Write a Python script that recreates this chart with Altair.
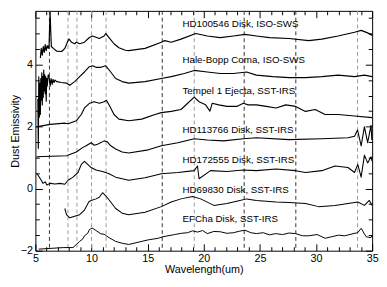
import altair as alt
import pandas as pd

# ---------------- data ----------------
series_names = ["HD100546", "Hale-Bopp", "Tempel 1", "HD113766", "HD172555", "HD69830", "EFCha"]

hd100546_x = [5.44, 5.52, 5.61, 5.7, 5.79, 5.87, 5.96, 6.05, 6.14, 6.22, 6.27, 6.31, 6.36, 6.42, 6.6, 6.9, 7.34, 7.62, 7.91, 8.0,
              8.21, 8.5, 8.65, 8.94, 9.37, 9.81, 10.1, 10.69, 11.12, 11.27, 11.56, 12.0, 12.44, 13.02, 13.31, 14.77, 16.22, 16.52, 17.1, 17.97,
              19.29, 20.31, 21.47, 22.65, 23.66, 24.69, 25.85, 27.6, 29.35, 30.52, 31.97, 33.43, 34.02, 34.6, 35.0]
hd100546_y = [4.21, 4.52, 4.3, 4.58, 4.39, 4.64, 4.45, 4.61, 4.52, 4.64, 5.27, 5.68, 5.12, 4.58, 4.52, 4.43, 4.42, 4.52, 4.77, 4.82,
              4.72, 4.67, 4.72, 4.67, 4.72, 4.87, 4.92, 4.84, 4.92, 5.0, 4.87, 4.67, 4.54, 4.46, 4.45, 4.52, 4.72, 4.77, 4.72, 4.82,
              5.0, 4.92, 4.87, 4.92, 4.97, 4.92, 4.87, 4.84, 4.77, 4.82, 4.92, 5.04, 5.1, 5.02, 4.94]

halebopp_x = [5.22, 5.26, 5.3, 5.35, 5.4, 5.44, 5.48, 5.52, 5.57, 5.61, 5.66, 5.7, 5.74, 5.79, 5.83, 5.87, 5.92, 5.96, 6.01, 6.05,
              6.14, 6.22, 6.31, 6.4, 6.49, 6.57, 6.66, 6.75, 6.9, 7.3, 7.77, 8.06, 8.5, 8.94, 9.37, 9.81, 10.1, 10.4, 10.84, 11.27,
              11.71, 12.15, 12.73, 13.31, 14.77, 16.22, 17.1, 18.27, 19.15, 20.31, 21.47, 22.65, 23.81, 24.69, 26.15, 27.6, 29.06, 30.52, 31.97, 33.43,
              34.31, 35.0]
halebopp_y = [2.9, 1.3, 3.6, 2.3, 3.4, 2.39, 3.55, 2.85, 3.73, 2.7, 3.61, 2.94, 3.82, 3.15, 3.67, 3.06, 3.61, 2.82, 3.55, 3.3,
              3.67, 3.61, 3.3, 3.55, 3.36, 3.52, 3.42, 3.5, 3.45, 3.42, 3.4, 3.33, 3.45, 3.61, 3.76, 3.93, 3.96, 3.91, 3.91, 3.96,
              3.76, 3.55, 3.45, 3.4, 3.45, 3.55, 3.61, 3.71, 3.81, 3.76, 3.71, 3.71, 3.76, 3.66, 3.61, 3.58, 3.58, 3.61, 3.66, 3.61,
              3.66, 3.61]

tempel_x = [5.09, 6.31, 7.62, 7.91, 8.65, 9.09, 9.37, 9.81, 10.25, 10.69, 11.12, 11.33, 11.71, 12.0, 12.44, 13.31, 14.47, 15.65, 16.22, 17.1,
            17.97, 18.71, 19.15, 19.58, 20.16, 20.55, 20.75, 21.33, 22.06, 22.94, 23.52, 23.96, 24.69, 25.56, 26.44, 27.31, 28.18, 29.06, 29.93, 30.81,
            31.97, 33.43, 35.0]
tempel_y = [1.99, 2.07, 2.11, 2.09, 2.19, 2.39, 2.6, 2.75, 2.8, 2.75, 2.8, 2.85, 2.6, 2.39, 2.24, 2.19, 2.24, 2.39, 2.45, 2.49,
            2.55, 2.8, 2.95, 2.8, 2.7, 2.5, 2.75, 2.7, 2.65, 2.65, 2.75, 2.7, 2.7, 2.65, 2.6, 2.7, 2.65, 2.49, 2.55, 2.39,
            2.39, 2.34, 2.29]

hd113766_x = [5.09, 7.77, 8.65, 9.23, 9.52, 9.96, 10.25, 10.54, 11.12, 11.41, 11.71, 12.15, 12.73, 13.31, 15.06, 16.22, 17.69, 19.15, 20.31, 21.77,
              23.52, 24.69, 27.6, 30.52, 32.85, 33.43, 33.7, 34.02, 34.31, 34.6, 34.9, 34.97, 35.0]
hd113766_y = [1.03, 1.06, 1.18, 1.33, 1.38, 1.48, 1.4, 1.43, 1.54, 1.51, 1.38, 1.28, 1.18, 1.15, 1.25, 1.38, 1.48, 1.61, 1.57, 1.54,
              1.61, 1.64, 1.58, 1.61, 1.64, 1.69, 1.89, 1.38, 1.99, 1.48, 2.04, 1.58, 1.79]

hd172555_x = [5.15, 5.44, 5.67, 5.87, 6.02, 6.31, 6.75, 7.19, 7.62, 7.91, 8.35, 8.79, 9.09, 9.37, 9.66, 9.96, 10.4, 10.98, 11.56, 12.15,
              12.73, 13.31, 14.77, 16.22, 17.69, 19.15, 19.44, 19.58, 20.6, 22.06, 23.52, 24.69, 26.44, 28.18, 29.06, 30.52, 31.69, 32.85, 33.43, 33.72,
              34.02, 34.31, 34.6, 34.9, 35.0]
hd172555_y = [0.48, 0.32, 0.17, 0.22, 0.12, 0.17, 0.15, 0.17, 0.14, 0.27, 0.37, 0.52, 0.78, 0.88, 0.78, 0.68, 0.6, 0.55, 0.48, 0.37,
              0.32, 0.27, 0.35, 0.48, 0.52, 0.58, 0.73, 0.32, 0.58, 0.55, 0.6, 0.58, 0.63, 0.58, 0.52, 0.58, 0.73, 0.68, 0.52, 0.78,
              0.37, 1.08, 0.83, 1.03, 0.88]

hd69830_x = [7.62, 7.77, 8.06, 8.5, 8.94, 9.37, 9.75, 9.96, 10.4, 10.69, 10.98, 11.27, 11.71, 12.15, 12.73, 13.31, 14.77, 16.22, 17.1, 17.97,
             18.99, 19.72, 20.9, 22.06, 23.22, 23.81, 24.69, 26.44, 27.6, 29.06, 30.23, 31.69, 32.85, 33.72, 34.31, 34.75, 35.0]
hd69830_y = [-0.64, -0.84, -0.94, -0.89, -0.84, -0.69, -0.43, -0.38, -0.33, -0.28, -0.13, -0.23, -0.43, -0.64, -0.79, -0.84, -0.76, -0.58, -0.43, -0.33,
             -0.25, -0.33, -0.54, -0.48, -0.38, -0.33, -0.38, -0.43, -0.45, -0.48, -0.58, -0.54, -0.48, -0.43, -0.54, -0.38, -0.54]

efcha_x = [5.29, 7.48, 8.35, 8.65, 8.94, 9.23, 9.37, 9.66, 9.81, 10.05, 10.4, 10.84, 11.12, 11.56, 12.15, 12.73, 13.31, 15.06, 15.94, 16.37,
           17.4, 18.0, 18.56, 19.0, 19.44, 19.9, 20.31, 20.9, 21.47, 22.06, 22.65, 23.2, 23.66, 24.2, 24.69, 25.3, 25.85, 26.4, 27.02, 27.6,
           28.18, 28.8, 29.35, 30.1, 30.81, 31.4, 32.0, 32.56, 33.2, 33.72, 34.02, 34.46, 34.9, 35.0]
efcha_y = [-1.95, -1.9, -1.9, -1.8, -1.7, -1.62, -1.52, -1.44, -1.32, -1.27, -1.35, -1.46, -1.47, -1.58, -1.7, -1.76, -1.8, -1.65, -1.6, -1.55,
           -1.48, -1.44, -1.42, -1.36, -1.4, -1.35, -1.45, -1.38, -1.39, -1.44, -1.42, -1.37, -1.34, -1.42, -1.45, -1.42, -1.49, -1.45, -1.48, -1.43,
           -1.45, -1.52, -1.52, -1.48, -1.6, -1.55, -1.5, -1.52, -1.46, -1.42, -1.28, -1.55, -1.58, -1.49]

label_texts = ["HD100546 Disk, ISO-SWS", "Hale-Bopp Coma, ISO-SWS", "Tempel 1 Ejecta, SST-IRS",
               "HD113766 Disk, SST-IRS", "HD172555 Disk, SST-IRS", "HD69830 Disk, SST-IRS", "EFCha Disk, SST-IRS"]
label_x = [18.1, 18.1, 18.1, 18.1, 18.1, 18.1, 18.1]
label_y = [5.3, 4.13, 3.15, 1.89, 0.93, -0.03, -0.99]

feature_x = [6.25, 7.9, 8.7, 10.0, 11.3, 16.3, 19.15, 23.6, 28.2, 33.7]
feature_kind = ["dark", "light", "light", "light", "light", "dark", "light", "dark", "dark", "light"]

x_ticks = list(range(5, 36))
y_ticks = [-2 + 0.5 * k for k in range(16)]

# ---------------- tables ----------------
xs_all = [hd100546_x, halebopp_x, tempel_x, hd113766_x, hd172555_x, hd69830_x, efcha_x]
ys_all = [hd100546_y, halebopp_y, tempel_y, hd113766_y, hd172555_y, hd69830_y, efcha_y]
rows = []
for name, xs, ys in zip(series_names, xs_all, ys_all):
    assert len(xs) == len(ys), name
    for i, (a, b) in enumerate(zip(xs, ys)):
        rows.append({"series": name, "wl": a, "em": b, "i": i})
spec_df = pd.DataFrame(rows)

lab_df = pd.DataFrame({"text": label_texts, "lx": label_x, "ly": label_y})
feat_df = pd.DataFrame({"fx": feature_x, "kind": feature_kind})

widths = [1.2, 1.0, 1.0, 1.5, 1.5, 1.0, 1.0]

xscale = alt.Scale(domain=[5, 35], nice=False, zero=False)
yscale = alt.Scale(domain=[-2, 5.73], nice=False, zero=False)

x_dash = {"condition": {"test": "datum.value % 5 === 0", "value": [8, 0]}, "value": [0, 3, 4]}
y_dash = {"condition": {"test": "datum.value % 2 === 0", "value": [8, 0]}, "value": [0, 3, 4]}

common = dict(tickSize=7, offset=-7, domain=False, grid=False, labelFlush=False, labelOverlap=False)

rules = alt.Chart(feat_df).mark_rule(strokeDash=[4, 3], strokeWidth=1).encode(
    x=alt.X("fx:Q", scale=xscale, axis=None),
    color=alt.Color("kind:N", scale=alt.Scale(domain=["dark", "light"], range=["#333333", "#9a9a9a"]), legend=None),
)

lines = alt.Chart(spec_df).mark_line(color="black", clip=True, strokeJoin="round").encode(
    x=alt.X("wl:Q", scale=xscale,
            axis=alt.Axis(orient="bottom", values=x_ticks, tickDash=x_dash,
                          labelExpr="datum.value % 5 === 0 ? format(datum.value, 'd') : ''",
                          labelPadding=2, title="Wavelength(um)", titlePadding=0, **common)),
    y=alt.Y("em:Q", scale=yscale,
            axis=alt.Axis(orient="left", values=y_ticks, tickDash=y_dash,
                          labelExpr="datum.value % 2 === 0 ? format(datum.value, 'd') : ''",
                          labelPadding=3, title="Dust Emissivity", titlePadding=0, **common)),
    detail="series:N",
    order="i:Q",
    strokeWidth=alt.StrokeWidth("series:N", scale=alt.Scale(domain=series_names, range=widths), legend=None),
)

texts = alt.Chart(lab_df).mark_text(align="left", baseline="middle", font="Liberation Sans", fontSize=10, color="black").encode(
    x=alt.X("lx:Q", scale=xscale,
            axis=alt.Axis(orient="top", values=x_ticks, tickDash=x_dash, labels=False, title=None, **common)),
    y=alt.Y("ly:Q", scale=yscale,
            axis=alt.Axis(orient="right", values=y_ticks, tickDash=y_dash, labels=False, title=None, **common)),
    text="text:N",
)

chart = alt.layer(rules, lines, texts).resolve_axis(x="independent", y="independent").properties(
    width=344, height=245,
    padding={"left": 28, "top": 0, "right": 7, "bottom": 26},
    autosize=alt.AutoSizeParams(type="none"),
    background="white",
).configure_view(stroke="black", strokeWidth=1).configure_axis(
    labelFont="Liberation Sans", labelFontSize=11, labelColor="black",
    titleFont="Liberation Sans", titleFontSize=11, titleFontWeight="normal", titleColor="black",
    tickColor="black", tickWidth=1,
)

chart.save("out.html", embed_options={"renderer": "svg", "actions": False})
